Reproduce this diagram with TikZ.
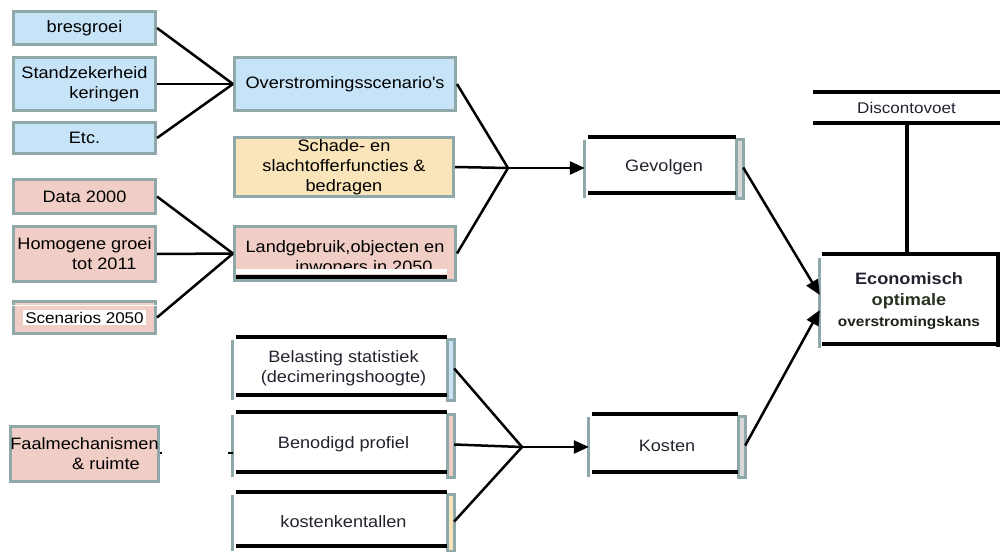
\documentclass[tikz,border=0pt]{standalone}
\usepackage{fontspec}
\setmainfont{Liberation Sans}[FakeStretch=1.1]
\usetikzlibrary{arrows.meta}
\definecolor{blueF}{RGB}{199,227,248}
\definecolor{pinkF}{RGB}{240,205,197}
\definecolor{yellF}{RGB}{250,228,186}
\definecolor{rim}{RGB}{143,168,170}
\definecolor{stripgrey}{RGB}{216,216,216}
\definecolor{darktxt}{RGB}{35,35,48}
\definecolor{olivetxt}{RGB}{40,50,30}
\tikzset{
  box/.style={draw=rim,line width=3pt,inner sep=0pt,align=center,text=black},
  openbox/.style={inner sep=0pt,align=center,text=darktxt},
  link/.style={line width=2.5pt,black},
  arr/.style={link,-{Triangle[length=15pt,width=13pt]}},
  bar/.style={line width=4pt,black},
  rimline/.style={line width=3pt,rim},
  every node/.style={font=\fontsize{16.5}{20}\selectfont},
}
% open frame: black bars top/bottom, grey rim left, small strip right
\newcommand\openframe[2]{%
  \draw[rimline] ([yshift=-3pt]#1.north west) -- (#1.south west);
  \draw[rimline,fill=#2] ([yshift=-3pt,xshift=-7pt]#1.north east) rectangle (#1.south east);
  \draw[bar] ([xshift=3pt]#1.north west) -- ([xshift=-7pt]#1.north east);
  \draw[bar] ([xshift=3pt,yshift=5pt]#1.south west) -- ([xshift=-7pt,yshift=5pt]#1.south east);}
\begin{document}
\begin{tikzpicture}[x=1pt,y=-1pt]
\useasboundingbox (0,0) rectangle (1000,551);

% left column
\node[box,fill=blueF,minimum width=142pt,minimum height=33pt] (bres) at (84.5,28) {bresgroei};
\node[box,fill=blueF,minimum width=142pt,minimum height=53pt] (standz) at (84.5,84) {Standzekerheid\\\hspace*{2.4em}keringen};
\node[box,fill=blueF,minimum width=142pt,minimum height=31pt] (etc) at (84.5,138) {Etc.};
\node[box,fill=pinkF,minimum width=142pt,minimum height=34pt] (data) at (84.5,196.5) {Data 2000};
\node[box,fill=pinkF,minimum width=142pt,minimum height=55pt] (homog) at (84.5,254) {Homogene groei\\\hspace*{2.4em}tot 2011};
\node[box,fill=pinkF,minimum width=142pt,minimum height=32pt] (scen) at (84.5,317.5) {\fontsize{15.5}{18}\selectfont\setlength{\fboxsep}{2pt}\colorbox{white}{Scenarios 2050}};
\draw[white,line width=1pt] (12,305) -- (170,305);
\node[box,fill=pinkF,minimum width=142pt,minimum height=55pt] (faal) at (84.5,454) {Faalmechanismen\\\hspace*{2.6em}\& ruimte};

% middle column
\node[box,fill=blueF,minimum width=221pt,minimum height=53pt] (overstr) at (345,84) {Overstromingsscenario\textquotesingle s};
\node[box,fill=yellF,minimum width=219pt,minimum height=59pt] (schade) at (344,167) {Schade- en\\slachtofferfuncties \&\\bedragen};
\node[box,fill=pinkF,minimum width=221pt,minimum height=54pt] (landg) at (345,253.5) {\rule{0pt}{19pt}Landgebruik,objecten en\\\hspace*{2.3em}inwoners in 2050};
\fill[white] (236,269) rectangle (447,274);
\draw[bar] (236,277) -- (447,277);

\node[openbox,minimum width=221pt,minimum height=63pt] (belast) at (343.5,368.5) {Belasting statistiek\\(decimeringshoogte)};
\openframe{belast}{blueF}
\node[openbox,minimum width=221pt,minimum height=65pt] (benod) at (343.5,444.5) {Benodigd profiel};
\openframe{benod}{pinkF}
\node[openbox,minimum width=221pt,minimum height=59pt] (kental) at (343.5,521.5) {kostenkentallen};
\openframe{kental}{yellF}

% right column
\node[openbox,minimum width=158pt,minimum height=61pt] (gevolg) at (664,167.5) {Gevolgen};
\openframe{gevolg}{stripgrey}
\node[openbox,minimum width=156pt,minimum height=63pt] (kosten) at (667,445.5) {Kosten};
\openframe{kosten}{stripgrey}

\node[openbox,minimum width=187pt,minimum height=31pt,font=\fontsize{15.5}{19}\selectfont] (disc) at (906.5,107.5) {Discontovoet};
\draw[bar] (disc.north west) -- (disc.north east);
\draw[bar] (disc.south west) -- (disc.south east);

\node[openbox,minimum width=178pt,minimum height=94pt,font=\bfseries\fontsize{16.5}{21}\selectfont] (econ) at (909,301)
  {Economisch\\\textcolor{olivetxt}{optimale}\\{\fontsize{14}{18}\selectfont\color{olivetxt!70!black}overstromingskans}};
\draw[rimline] ([yshift=-4pt]econ.north west) -- (econ.south west);
\draw[bar] ([xshift=2pt]econ.north west) -- (econ.north east) -- ([yshift=1pt]econ.south east);
\draw[bar] ([xshift=2pt,yshift=4pt]econ.south west) -- ([yshift=4pt]econ.south east);

% connectors
\draw[link] (bres.east) -- (overstr.west);
\draw[link] (standz.east) -- (overstr.west);
\draw[link] (etc.east) -- (overstr.west);
\draw[link] (data.east) -- (landg.west);
\draw[link] (homog.east) -- (landg.west);
\draw[link] (scen.east) -- (landg.west);

\coordinate (jtop) at (508,168);
\coordinate (jbot) at (522,447);
\draw[link] (overstr.east) -- (jtop);
\draw[link] (schade.east) -- (jtop);
\draw[link] (landg.east) -- (jtop);
\draw[arr] (jtop) -- (gevolg.west |- jtop);
\draw[link] (belast.east) -- (jbot);
\draw[link] (benod.east) -- (jbot);
\draw[link] (kental.east) -- (jbot);
\draw[arr] (jbot) -- (kosten.west |- jbot);

\draw[arr] (gevolg.east) -- ([yshift=6pt]econ.west);
\draw[arr] (kosten.east) -- ([yshift=-9pt]econ.west);
\draw[bar] (disc.south) -- (disc.south |- econ.north);

% remnants of the hidden link
\coordinate (stub) at (228,453);
\draw[link,line width=2pt] (stub) -- (stub -| benod.west);
\draw[link,line width=2pt] (faal.east |- stub) -- ++(2,0);
\end{tikzpicture}
\end{document}
